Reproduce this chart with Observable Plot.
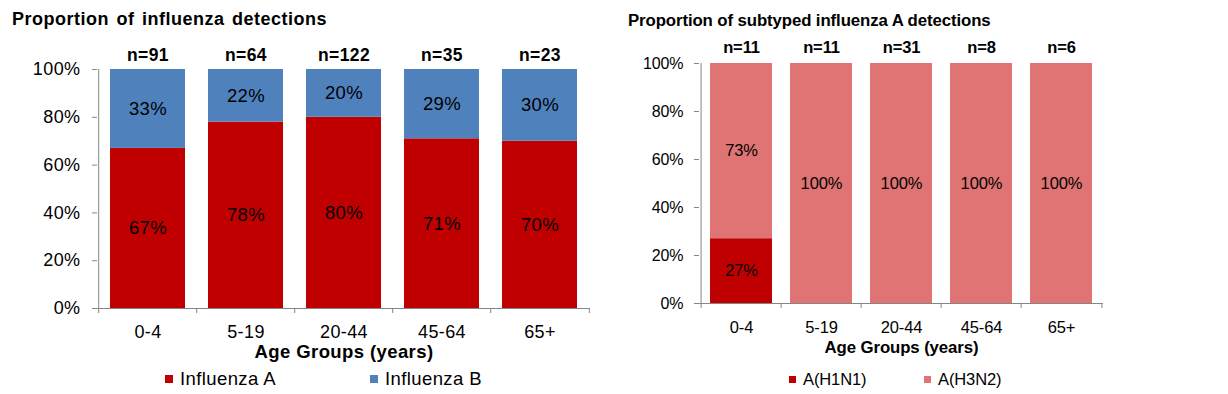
<!DOCTYPE html>
<html>
<head>
<meta charset="utf-8">
<script src="https://cdn.jsdelivr.net/npm/d3@7"></script>
<script src="https://cdn.jsdelivr.net/npm/@observablehq/plot@0.6"></script>
<style>
  html, body { margin: 0; padding: 0; background: #fff; }
  body { width: 1228px; height: 394px; position: relative; overflow: hidden;
         font-family: "Liberation Sans", Arial, sans-serif; color: #000; }
  .panel { position: absolute; top: 0; height: 394px; }
  .panel svg { position: absolute; left: 0; top: 0; overflow: visible; }
  .title { position: absolute; font-weight: bold; white-space: nowrap; line-height: 20px; }
  .legend-item { position: absolute; white-space: nowrap; line-height: 20px; display: flex; align-items: center; }
  .swatch { display: inline-block; margin-right: 7px; }
</style>
</head>
<body>
<div id="left" class="panel" style="left:0;width:600px;"></div>
<div id="right" class="panel" style="left:600px;width:628px;"></div>
<script>
// ---------- data ----------
const ageGroups = ["0-4", "5-19", "20-44", "45-64", "65+"];
const yTicks = [0, 20, 40, 60, 80, 100];

const leftTitle = "Proportion of influenza detections";
const leftN = [91, 64, 122, 35, 23];
const leftSeries = ["Influenza A", "Influenza B"];
const fluA = [67, 78, 80, 71, 70];
const fluB = [33, 22, 20, 29, 30];
const leftColors = ["#C00000", "#4F81BD"];

const rightTitle = "Proportion of subtyped influenza A detections";
const rightN = [11, 11, 31, 8, 6];
const rightSeries = ["A(H1N1)", "A(H3N2)"];
const h1n1 = [27, 0, 0, 0, 0];
const h3n2 = [73, 100, 100, 100, 100];
const rightColors = ["#C00000", "#E07474"];

const xLabel = "Age Groups (years)";

function rows(series, valueLists) {
  const out = [];
  series.forEach((s, si) => ageGroups.forEach((a, i) => out.push({series: s, age: a, value: valueLists[si][i]})));
  return out;
}

function makeChart(cfg) {
  const data = rows(cfg.series, cfg.values);
  const step = (cfg.width - cfg.ml - cfg.mr) / ageGroups.length;
  const axisGray = "#868686";
  const nRows = ageGroups.map((a, i) => ({age: a, n: cfg.n[i]}));
  const chart = Plot.plot({
    width: cfg.width,
    height: 394,
    marginLeft: cfg.ml,
    marginRight: cfg.mr,
    marginTop: cfg.mt,
    marginBottom: cfg.mb,
    style: {fontFamily: '"Liberation Sans", Arial, sans-serif', background: "transparent", overflow: "visible", letterSpacing: cfg.ls + "px"},
    x: {domain: ageGroups, paddingInner: 0.23, paddingOuter: 0.115, axis: null, label: null},
    y: {domain: [0, 100], axis: null, label: null},
    color: {domain: cfg.series, range: cfg.colors},
    marks: [
      Plot.barY(data, {x: "age", y: "value", fill: "series"}),
      Plot.text(data.filter(d => d.value > 0), Plot.stackY({x: "age", y: "value", z: "series", text: d => d.value + "%", fontSize: cfg.fs, fill: "#000"})),
      Plot.ruleY([0], {stroke: axisGray}),
      // y-axis line (left edge of first band) + boundary ticks below the x-axis
      Plot.ruleX(ageGroups.slice(0, 1), {x: d => d, y1: 100, y2: 0, dx: -step / 2, insetBottom: -5, stroke: axisGray}),
      Plot.ruleX(ageGroups.slice(1), {x: d => d, y1: 0, y2: 0, dx: -step / 2, insetBottom: -5, stroke: axisGray}),
      Plot.ruleX(ageGroups.slice(-1), {x: d => d, y1: 0, y2: 0, dx: step / 2, insetBottom: -5, stroke: axisGray}),
      Plot.axisY({ticks: yTicks, tickFormat: d => d + "%", tickSize: 5, tickPadding: cfg.ytp, fontSize: cfg.yfs, stroke: axisGray, fill: "#000", label: null}),
      Plot.axisX({tickSize: 0, tickPadding: cfg.xtp, fontSize: cfg.xfs, fill: "#000", label: null}),
      Plot.text(nRows, {x: "age", y: 100, text: d => "n=" + d.n, dy: cfg.ndy, fontSize: cfg.nfs, fontWeight: "bold", fill: "#000"}),
      Plot.text([xLabel], {frameAnchor: "bottom", dy: cfg.ady, fontSize: cfg.afs, fontWeight: "bold", fill: "#000"})
    ]
  });
  const panel = document.getElementById(cfg.id);
  panel.appendChild(chart);

  const t = document.createElement("div");
  t.className = "title";
  t.textContent = cfg.title;
  t.style.left = cfg.titleX + "px";
  t.style.top = cfg.titleY + "px";
  t.style.fontSize = cfg.tfs + "px";
  t.style.letterSpacing = cfg.tls + "px";
  t.style.wordSpacing = cfg.tws + "px";
  panel.appendChild(t);

  cfg.series.forEach((s, i) => {
    const item = document.createElement("div");
    item.className = "legend-item";
    item.style.left = cfg.legendX[i] + "px";
    item.style.top = "369px";
    item.style.fontSize = cfg.fs + "px";
    item.style.letterSpacing = cfg.ls + "px";
    const sw = document.createElement("span");
    sw.className = "swatch";
    sw.style.width = cfg.sw + "px";
    sw.style.height = cfg.sw + "px";
    sw.style.background = cfg.colors[i];
    const label = document.createElement("span");
    label.textContent = s;
    item.appendChild(sw);
    item.appendChild(label);
    panel.appendChild(item);
  });
}

makeChart({
  id: "left", width: 600, ml: 97, mr: 10, mt: 69, mb: 86,
  series: leftSeries, values: [fluA, fluB], colors: leftColors, n: leftN,
  title: leftTitle, titleX: 12, titleY: 9, tfs: 18, tls: 0.5, tws: 2,
  fs: 18.5, yfs: 18, xfs: 18, xtp: 17, nfs: 17.5, afs: 18.5, ady: 49, ndy: -14, ytp: 12, ls: 0.4,
  legendX: [165, 370], sw: 8
});
makeChart({
  id: "right", width: 628, ml: 99, mr: 125, mt: 63, mb: 91,
  series: rightSeries, values: [h1n1, h3n2], colors: rightColors, n: rightN,
  title: rightTitle, titleX: 28, titleY: 11, tfs: 16.8, tls: -0.1, tws: 0,
  fs: 16.5, yfs: 16, xfs: 16.5, xtp: 18, nfs: 16.5, afs: 16.8, ady: 49, ndy: -16, ytp: 11, ls: -0.1,
  legendX: [189, 324], sw: 7
});
</script>
</body>
</html>
